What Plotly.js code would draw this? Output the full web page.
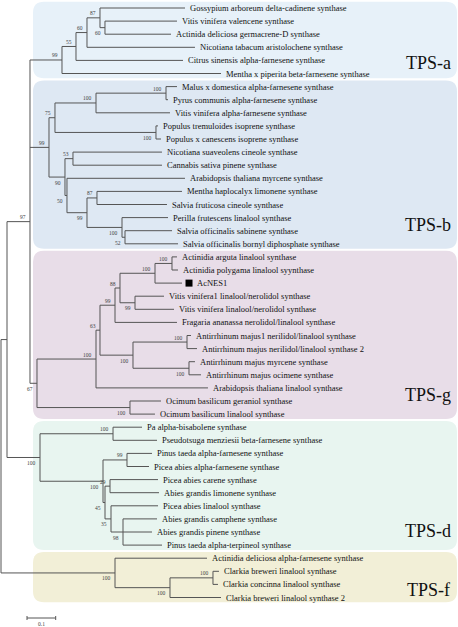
<!DOCTYPE html>
<html><head><meta charset="utf-8">
<script src="https://cdn.plot.ly/plotly-3.0.1.min.js"></script>
<style>html,body{margin:0;padding:0;background:#fff}#chart{width:458px;height:627px}</style>
</head><body><div id="chart"></div>
<script>
// ---------------- DATA ----------------
// Clade names and their subtrees (Newick: 'leaf name':branch length, )bootstrap:branch length)
const cladeNames = ['TPS-a', 'TPS-b', 'TPS-g', 'TPS-d', 'TPS-f'];

const newickTPSa = "(((('Gossypium arboreum delta-cadinene synthase':0.2962,('Vitis vinifera valencene synthase':0.2509,'Actinida deliciosa germacrene-D synthase':0.2300)60:0.0174)87:0.0453,'Nicotiana tabacum aristolochene synthase':0.3763)60:0.0383,'Citrus sinensis alpha-farnesene synthase':0.3728)55:0.0488,'Mentha x piperita beta-farnesene synthase':0.5540)99";

const newickTPSb = "(((('Malus x domestica alpha-farnesene synthase':0.0383,'Pyrus communis alpha-farnesene synthase':0.0070)100:0.2439,'Vitis vinifera alpha-farnesene synthase':0.2578)100:0.1429,('Populus tremuloides isoprene synthase':0.0070,'Populus x canescens isoprene synthase':0.0174)100:0.3519)75:0.0209,(('Nicotiana suaveolens cineole synthase':0.3101,'Cannabis sativa pinene synthase':0.3101)53:0.0279,('Arabidopsis thaliana myrcene synthase':0.4111,(('Mentha haplocalyx limonene synthase':0.2962,'Salvia fruticosa cineole synthase':0.2439)87:0.0348,('Perilla frutescens linalool synthase':0.1603,('Salvia officinalis sabinene synthase':0.1638,'Salvia officinalis bornyl diphosphate synthase':0.1847)52:0.0105)100:0.1220)99:0.0697)50:0.0070)90:0.0557)99";

const newickTPSg = "((((((('Actinidia arguta linalool synthase':0.0174,'Actinidia polygama linalool syynthase':0.0209)100:0.0592,'AcNES1':0.0941)100:0.1220,('Vitis vinifera1 linalool/nerolidol synthase':0.1010,'Vitis vinifera linalool/nerolidol synthase':0.1359)99:0.0523)88:0.0174,'Fragaria ananassa nerolidol/linalool synthase':0.2160)99:0.0523,(('Antirrhinum majus1 nerilidol/linalool synthase':0.0139,'Antirrhinum majus nerilidol/linalool synthase 2':0.0348)100:0.1882,('Antirrhinum majus myrcene synthase':0.0209,'Antirrhinum majus ocimene synthase':0.0418)100:0.1951)100:0.1150)63:0.0139,'Arabidopsis thaliana linalool synthase':0.3902)100:0.2056,('Ocimum basilicum geraniol synthase':0.1080,'Ocimum basilicum linalool synthase':0.0871)100:0.3240)67";

const newickTPSd = "(('Pa alpha-bisabolene synthase':0.1010,'Pseudotsuga menziesii beta-farnesene synthase':0.1533)100:0.2544,(('Pinus taeda alpha-farnesene synthase':0.0871,'Picea abies alpha-farnesene synthase':0.0767)99:0.0836,(('Picea abies carene synthase':0.1672,'Abies grandis limonene synthase':0.1707)29:0.0174,('Picea abies linalool synthase':0.1638,('Abies grandis camphene synthase':0.1185,'Abies grandis pinene synthase':0.1010,'Pinus taeda alpha-terpineol synthase':0.1359)98:0.0418)35:0.0209)45:0.0070)100:0.2195)100";

const newickTPSf = "('Actinidia deliciosa alpha-farnesene synthase':0.3206,(('Clarkia breweri linalool synthase':0.0209,'Clarkia concinna linalool synthase':0.0174)100:0.1498,'Clarkia breweri linalool synthase 2':0.1777)100:0.1916)100";

// backbone joining the clades
const newickBackbone = "((('TPS-a':0.1115,'TPS-b':0.0662,'TPS-g':0.0244)97:0.0801,'TPS-d':0.1150):0.0209,'TPS-f':0.3972);";

const markedLeaf = 'AcNES1';
const scaleBarLength = 0.1;
const scaleBarLabel = '0.1';

// ---------------- STYLE / LAYOUT ----------------
const W = 458, H = 627;
const PX_PER_UNIT = 287, ROOT_PX = 1;   // horizontal scale
const ROW0_PX = 8, ROW_PX = 13.1;        // vertical spacing of leaves
const cladeColors = ['#e7f1f9', '#dee8f3', '#e8dde8', '#e8f5f0', '#f2efd7'];
const cladeLabelPx = [63, 225, 395, 531, 590];
const boxLeftPx = 33, boxRightPx = 457, boxRadiusPx = 11;
const lineColor = '#555';
const serif = 'Liberation Serif, Times New Roman, serif';

// ---------------- PARSER ----------------
function parseNewick(s) {
  let i = 0;
  function readUntil(stops) { let t = ''; while (i < s.length && !stops.includes(s[i])) t += s[i++]; return t; }
  function node() {
    const n = { children: [], name: '', len: 0, support: null };
    if (s[i] === '(') {
      i++; n.children.push(node());
      while (s[i] === ',') { i++; n.children.push(node()); }
      i++; // ')'
      const lab = readUntil(':,);');
      if (lab) n.support = lab;
    } else if (s[i] === "'") {
      i++; let nm = ''; while (s[i] !== "'") nm += s[i++]; i++; n.name = nm;
    } else {
      n.name = readUntil(':,);');
    }
    if (s[i] === ':') { i++; n.len = parseFloat(readUntil(',);')); }
    return n;
  }
  return node();
}

const cladeNewick = [newickTPSa, newickTPSb, newickTPSg, newickTPSd, newickTPSf];
const root = parseNewick(newickBackbone);
const cladeNodes = {};
(function graft(n) {
  n.children.forEach((c, k) => {
    const ci = cladeNames.indexOf(c.name);
    if (c.children.length === 0 && ci >= 0) {
      const sub = parseNewick(cladeNewick[ci]);
      sub.len = c.len; n.children[k] = sub; cladeNodes[cladeNames[ci]] = sub;
    } else graft(c);
  });
})(root);

// layout: x = cumulative branch length, y = leaf row
let row = 0;
const leaves = [], internals = [];
(function place(n, px, parent) {
  n.x = px + n.len; n.parent = parent;
  if (n.children.length === 0) { n.y = row++; leaves.push(n); }
  else {
    n.children.forEach(c => place(c, n.x, n));
    n.y = (n.children[0].y + n.children[n.children.length - 1].y) / 2;
    internals.push(n);
  }
})(root, 0, null);

function leafRange(n) {
  if (!n.children.length) return [n.y, n.y];
  const a = leafRange(n.children[0]), b = leafRange(n.children[n.children.length - 1]);
  return [a[0], b[1]];
}

// branches
const bx = [], by = [];
internals.forEach(n => {
  const f = n.children[0], l = n.children[n.children.length - 1];
  bx.push(n.x, n.x, null); by.push(f.y, l.y, null);
  n.children.forEach(c => { bx.push(n.x, c.x, null); by.push(c.y, c.y, null); });
});

// axes mapping (px -> data)
const dxPx = 1 / PX_PER_UNIT, dyPx = 1 / ROW_PX;
const xRange = [-ROOT_PX * dxPx, (W - ROOT_PX) * dxPx];
const yRange = [(H - ROW0_PX) * dyPx, -ROW0_PX * dyPx];
const pxToX = p => (p - ROOT_PX) * dxPx;
const pxToY = p => (p - ROW0_PX) * dyPx;

const traces = [];
traces.push({ x: bx, y: by, mode: 'lines', line: { color: lineColor, width: 1 }, hoverinfo: 'skip', showlegend: false });

const annotations = [];
leaves.forEach(n => {
  const marked = n.name === markedLeaf;
  annotations.push({ x: n.x, y: n.y, xref: 'x', yref: 'y', text: n.name, showarrow: false,
    xanchor: 'left', yanchor: 'middle', xshift: marked ? 13 : 3,
    font: { family: serif, size: 8.5, color: '#111' } });
  if (marked) traces.push({ x: [n.x + 7 * dxPx], y: [n.y], mode: 'markers',
    marker: { symbol: 'square', size: 7, color: '#000' }, hoverinfo: 'skip', showlegend: false });
});

internals.forEach(n => {
  if (!n.support || !n.parent) return;
  const sib = n.parent.children;
  const below = sib.length > 1 && sib[sib.length - 1] === n;
  annotations.push({ x: n.x, y: n.y, xref: 'x', yref: 'y', text: n.support, showarrow: false,
    xanchor: 'right', yanchor: 'middle', xshift: -2, yshift: below ? -5.5 : 4.5,
    font: { family: serif, size: 5.5, color: '#444' } });
});

// clade boxes + labels
const shapes = [];
cladeNames.forEach((nm, k) => {
  const r = leafRange(cladeNodes[nm]);
  const xl = pxToX(boxLeftPx), xr = pxToX(boxRightPx);
  const yt = r[0] - 0.47, yb = r[1] + 0.37;
  const rx = boxRadiusPx * dxPx, ry = boxRadiusPx * dyPx;
  const path = `M ${xl + rx},${yt} L ${xr - rx},${yt} Q ${xr},${yt} ${xr},${yt + ry} L ${xr},${yb - ry} Q ${xr},${yb} ${xr - rx},${yb} L ${xl + rx},${yb} Q ${xl},${yb} ${xl},${yb - ry} L ${xl},${yt + ry} Q ${xl},${yt} ${xl + rx},${yt} Z`;
  shapes.push({ type: 'path', xref: 'x', yref: 'y', path, fillcolor: cladeColors[k], line: { width: 0 }, layer: 'below' });
  annotations.push({ x: 428 / W, y: 1 - cladeLabelPx[k] / H, xref: 'paper', yref: 'paper', text: nm,
    showarrow: false, xanchor: 'center', yanchor: 'middle', font: { family: serif, size: 18, color: '#111' } });
});

// scale bar
const sbX = pxToX(27), sbY = pxToY(618), tk = 2 * dyPx;
traces.push({ x: [sbX, sbX + scaleBarLength, null, sbX, sbX, null, sbX + scaleBarLength, sbX + scaleBarLength],
  y: [sbY, sbY, null, sbY - tk, sbY + tk, null, sbY - tk, sbY + tk],
  mode: 'lines', line: { color: lineColor, width: 1 }, hoverinfo: 'skip', showlegend: false });
annotations.push({ x: sbX + scaleBarLength / 2, y: sbY, xref: 'x', yref: 'y', text: scaleBarLabel, showarrow: false,
  yanchor: 'top', yshift: -1, font: { family: serif, size: 5.5, color: '#444' } });

Plotly.newPlot('chart', traces, {
  width: W, height: H, margin: { l: 0, r: 0, t: 0, b: 0 },
  paper_bgcolor: '#fff', plot_bgcolor: '#fff', showlegend: false,
  xaxis: { range: xRange, visible: false, fixedrange: true },
  yaxis: { range: yRange, visible: false, fixedrange: true },
  shapes, annotations
}, { staticPlot: true, displayModeBar: false });
</script></body></html>
